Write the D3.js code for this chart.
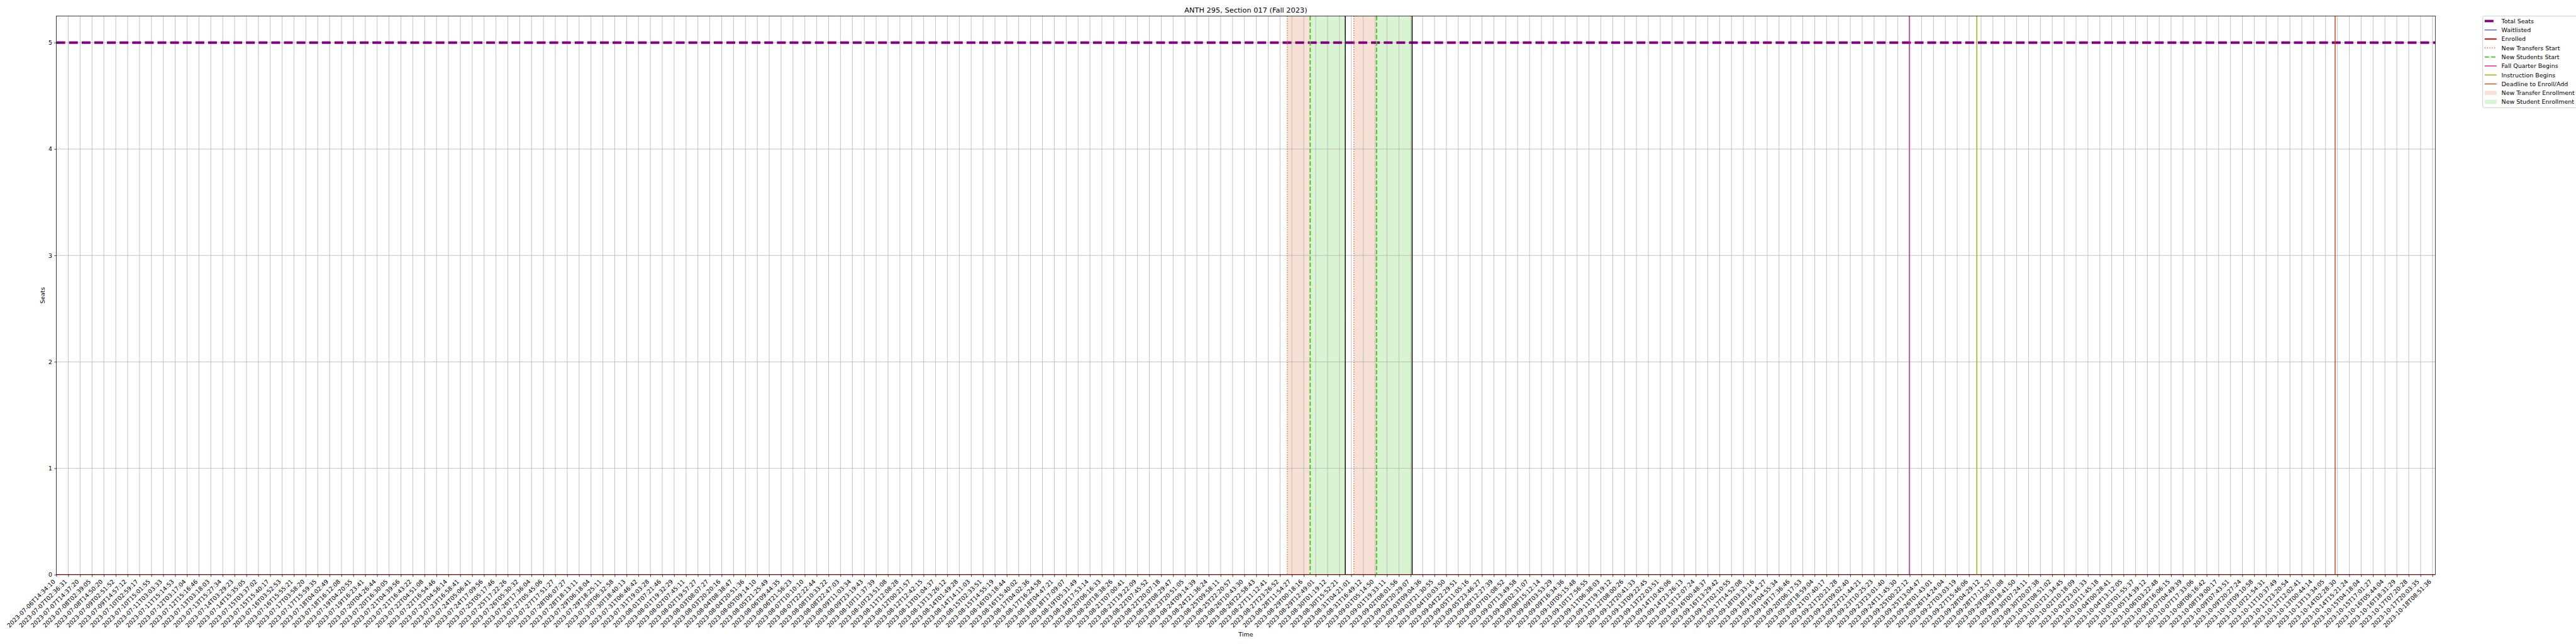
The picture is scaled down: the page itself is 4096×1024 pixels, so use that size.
<!DOCTYPE html>
<html><head><meta charset="utf-8">
<script src="https://cdn.jsdelivr.net/npm/d3@7"></script>
<style>html,body{margin:0;padding:0;background:#fff;} svg{display:block;}</style>
</head><body>
<svg id="chart" width="4096" height="1024"></svg>
<script>
// ---------------- DATA ----------------
const chartTitle = "ANTH 295, Section 017 (Fall 2023)";
const xAxisTitle = "Time";
const yAxisTitle = "Seats";
// one label per tick index (rows of 10); labels 73-101, 119-152, 166-188 are estimates (partly legible)
const tickLabels = [
/*000*/ "2023-07-06T14:34:10","2023-07-07T02:36:31","2023-07-07T14:37:20","2023-07-08T02:39:05","2023-07-08T14:50:20","2023-07-09T02:51:52","2023-07-09T14:57:12","2023-07-10T02:59:17","2023-07-10T15:01:55","2023-07-11T03:03:33",
/*010*/ "2023-07-11T15:14:53","2023-07-12T03:17:04","2023-07-12T15:16:46","2023-07-13T03:18:03","2023-07-13T15:27:34","2023-07-14T03:29:23","2023-07-14T15:35:05","2023-07-15T03:37:02","2023-07-15T15:40:17","2023-07-16T03:52:53",
/*020*/ "2023-07-16T15:55:21","2023-07-17T03:58:20","2023-07-17T15:59:35","2023-07-18T04:02:49","2023-07-18T16:12:08","2023-07-19T04:20:55","2023-07-19T16:23:41","2023-07-20T04:26:44","2023-07-20T16:30:05","2023-07-21T04:39:56",
/*030*/ "2023-07-21T16:43:22","2023-07-22T04:51:08","2023-07-22T16:54:46","2023-07-23T04:56:14","2023-07-23T16:58:41","2023-07-24T05:06:41","2023-07-24T17:09:56","2023-07-25T05:17:46","2023-07-25T17:22:26","2023-07-26T05:30:32",
/*040*/ "2023-07-26T17:36:04","2023-07-27T05:45:06","2023-07-27T17:51:27","2023-07-28T06:07:27","2023-07-28T18:13:11","2023-07-29T06:18:04","2023-07-29T18:25:11","2023-07-30T06:32:58","2023-07-30T18:40:13","2023-07-31T06:46:42",
/*050*/ "2023-07-31T19:03:28","2023-08-01T07:21:46","2023-08-01T19:32:29","2023-08-02T07:45:11","2023-08-02T19:57:27","2023-08-03T08:07:27","2023-08-03T20:20:16","2023-08-04T08:38:47","2023-08-04T20:51:36","2023-08-05T09:14:10",
/*060*/ "2023-08-05T21:25:49","2023-08-06T09:44:35","2023-08-06T21:56:23","2023-08-07T10:10:10","2023-08-07T22:22:44","2023-08-08T10:33:22","2023-08-08T22:47:03","2023-08-09T11:03:34","2023-08-09T23:19:43","2023-08-10T11:37:39",
/*070*/ "2023-08-10T23:51:08","2023-08-11T12:08:28","2023-08-12T00:21:57","2023-08-12T12:42:15","2023-08-13T01:04:37","2023-08-13T13:26:12","2023-08-14T01:49:28","2023-08-14T14:11:03","2023-08-15T02:33:51","2023-08-15T14:55:19",
/*080*/ "2023-08-16T03:18:44","2023-08-16T15:40:02","2023-08-17T04:02:36","2023-08-17T16:24:58","2023-08-18T04:47:21","2023-08-18T17:09:07","2023-08-19T05:31:49","2023-08-19T17:53:14","2023-08-20T06:16:33","2023-08-20T18:38:26",
/*090*/ "2023-08-21T07:00:41","2023-08-21T19:22:09","2023-08-22T07:45:52","2023-08-22T20:07:18","2023-08-23T08:29:47","2023-08-23T20:51:05","2023-08-24T09:14:39","2023-08-24T21:36:24","2023-08-25T09:58:11","2023-08-25T22:20:57",
/*100*/ "2023-08-26T10:43:30","2023-08-26T22:58:43","2023-08-27T11:12:41","2023-08-27T23:26:52","2023-08-28T11:54:27","2023-08-29T00:18:16","2023-08-29T12:49:01","2023-08-30T01:19:12","2023-08-30T15:52:21","2023-08-31T04:21:01",
/*110*/ "2023-08-31T16:49:12","2023-09-01T05:14:50","2023-09-01T19:33:11","2023-09-02T08:01:56","2023-09-02T20:29:07","2023-09-03T09:04:36","2023-09-03T21:30:55","2023-09-04T10:03:50","2023-09-04T22:29:51","2023-09-05T11:05:16",
/*120*/ "2023-09-05T23:46:27","2023-09-06T12:27:39","2023-09-07T01:08:52","2023-09-07T13:49:58","2023-09-08T02:31:07","2023-09-08T15:12:14","2023-09-09T03:53:29","2023-09-09T16:34:36","2023-09-10T05:15:48","2023-09-10T17:56:55",
/*130*/ "2023-09-11T06:38:03","2023-09-11T19:19:12","2023-09-12T08:00:26","2023-09-12T20:41:33","2023-09-13T09:22:45","2023-09-13T22:03:51","2023-09-14T10:45:06","2023-09-14T23:26:13","2023-09-15T12:07:24","2023-09-16T00:48:37",
/*140*/ "2023-09-16T13:29:42","2023-09-17T02:10:55","2023-09-17T14:52:08","2023-09-18T03:33:16","2023-09-18T16:14:27","2023-09-19T04:55:34","2023-09-19T17:36:46","2023-09-20T06:17:53","2023-09-20T18:59:04","2023-09-21T07:40:17",
/*150*/ "2023-09-21T20:21:28","2023-09-22T09:02:40","2023-09-22T21:44:21","2023-09-23T10:25:23","2023-09-23T23:01:40","2023-09-24T11:45:30","2023-09-25T00:22:12","2023-09-25T13:04:47","2023-09-26T01:43:01","2023-09-26T14:24:04",
/*160*/ "2023-09-27T03:03:19","2023-09-27T15:46:06","2023-09-28T04:29:12","2023-09-28T17:12:57","2023-09-29T06:01:08","2023-09-29T18:41:50","2023-09-30T07:24:11","2023-09-30T20:07:38","2023-10-01T08:51:02","2023-10-01T21:34:45",
/*170*/ "2023-10-02T10:18:09","2023-10-02T23:01:33","2023-10-03T11:45:18","2023-10-04T00:28:41","2023-10-04T13:12:05","2023-10-05T01:55:37","2023-10-05T14:39:12","2023-10-06T03:22:48","2023-10-06T16:06:15","2023-10-07T04:49:39",
/*180*/ "2023-10-07T17:33:06","2023-10-08T06:16:42","2023-10-08T19:00:17","2023-10-09T07:43:51","2023-10-09T20:27:24","2023-10-10T09:10:58","2023-10-10T21:54:31","2023-10-11T10:37:49","2023-10-11T23:20:54","2023-10-12T12:02:41",
/*190*/ "2023-10-13T00:44:14","2023-10-13T13:34:05","2023-10-14T02:28:30","2023-10-14T15:21:24","2023-10-15T04:18:04","2023-10-15T17:01:27","2023-10-16T05:44:04","2023-10-16T18:31:29","2023-10-17T07:20:28","2023-10-17T20:03:35",
/*200*/ "2023-10-18T08:51:36"
];
const seatsTicks = [0, 1, 2, 3, 4, 5];
const seatsAxisMax = 5.25;
const indexAxisMax = 200.24;
const seriesIndex = [0, 200.24];
const totalSeats = [5, 5];
const waitlisted = [0, 0];
const enrolled = [0, 0];
const newTransfersStart = ["2023-08-28T07:00:00", "2023-08-31T07:00:00"];
const newStudentsStart = ["2023-08-29T07:00:00", "2023-09-01T07:00:00"];
const enrollmentWindowEnd = ["2023-08-30T22:00:00", "2023-09-02T22:00:00"];
const fallQuarterBegins = ["2023-09-25T00:00:00"];
const instructionBegins = ["2023-09-28T00:00:00"];
const deadlineEnrollAdd = ["2023-10-14T00:00:00"];
const legendLabels = ["Total Seats","Waitlisted","Enrolled","New Transfers Start","New Students Start",
  "Fall Quarter Begins","Instruction Begins","Deadline to Enroll/Add","New Transfer Enrollment","New Student Enrollment"];

// ---------------- STYLE ----------------
const PT = 100 / 72;
const C = {
  seats: "#800080", wait: "#0000ff", enr: "#ff0000",
  transfer: "#ee6a2c", student: "#33cc11", fall: "#e0159c", instr: "#8fb300",
  deadline: "#c8441a", end: "#000000",
  transferSpan: "#f7e0d6", studentSpan: "#d9f4d2",
  grid: "#b0b0b0"
};
const FONT = "DejaVu Sans, Verdana, sans-serif";
const FS = 10 * PT;

// ---------------- DRAW ----------------
const S = 4096 / 6000;
const svg = d3.select("#chart");
svg.append("rect").attr("width", 4096).attr("height", 1024).attr("fill", "#fff");
const root = svg.append("g").attr("transform", `scale(${S})`);
const M = { left: 131.3, right: 5672.3, top: 37.3, bottom: 1338.7 };

const x = d3.scaleLinear().domain([0, indexAxisMax]).range([M.left, M.right]);
const y = d3.scaleLinear().domain([0, seatsAxisMax]).range([M.bottom, M.top]);

const parseT = d3.utcParse("%Y-%m-%dT%H:%M:%S");
const known = tickLabels.map((l, i) => [parseT(l), i]).filter(d => d[0]);
const timeToIndex = d3.scaleLinear().domain(known.map(d => d[0])).range(known.map(d => d[1]));
const xt = s => x(timeToIndex(parseT(s)));

root.append("clipPath").attr("id", "plotclip").append("rect")
  .attr("x", M.left).attr("y", M.top).attr("width", M.right - M.left).attr("height", M.bottom - M.top);
const plot = root.append("g").attr("clip-path", "url(#plotclip)");

// spans
function span(a, b, color) {
  plot.append("rect").attr("x", xt(a)).attr("y", M.top).attr("width", xt(b) - xt(a))
    .attr("height", M.bottom - M.top).attr("fill", color);
}
newTransfersStart.forEach((s, i) => span(s, newStudentsStart[i], C.transferSpan));
newStudentsStart.forEach((s, i) => span(s, enrollmentWindowEnd[i], C.studentSpan));

// grid
plot.append("g").selectAll("line").data(d3.range(tickLabels.length)).join("line")
  .attr("x1", d => x(d)).attr("x2", d => x(d)).attr("y1", M.top).attr("y2", M.bottom)
  .attr("stroke", C.grid).attr("stroke-width", 0.8 * PT);
plot.append("g").selectAll("line").data(seatsTicks).join("line")
  .attr("x1", M.left).attr("x2", M.right).attr("y1", d => y(d)).attr("y2", d => y(d))
  .attr("stroke", C.grid).attr("stroke-width", 0.8 * PT);

// series
const line = d3.line().x((d, i) => x(seriesIndex[i])).y(d => y(d));
plot.append("path").attr("d", line(totalSeats)).attr("fill", "none").attr("stroke", C.seats)
  .attr("stroke-width", 4 * PT).attr("stroke-dasharray", `${14.8 * PT},${6.4 * PT}`);
plot.append("path").attr("d", line(waitlisted)).attr("fill", "none").attr("stroke", C.wait)
  .attr("stroke-width", 1 * PT);
plot.append("path").attr("d", line(enrolled)).attr("fill", "none").attr("stroke", C.enr)
  .attr("stroke-width", 2 * PT);

// event lines
function vline(s, color, w, dash) {
  const l = plot.append("line").attr("x1", xt(s)).attr("x2", xt(s)).attr("y1", M.top).attr("y2", M.bottom)
    .attr("stroke", color).attr("stroke-width", w);
  if (dash) l.attr("stroke-dasharray", dash);
}
newTransfersStart.forEach(s => vline(s, C.transfer, 1.5 * PT, `${1.5 * PT},${2.475 * PT}`));
newStudentsStart.forEach(s => vline(s, C.student, 2 * PT, `${7.4 * PT},${3.2 * PT}`));
enrollmentWindowEnd.forEach(s => vline(s, C.end, 1.5 * PT));
fallQuarterBegins.forEach(s => vline(s, C.fall, 1.5 * PT));
instructionBegins.forEach(s => vline(s, C.instr, 1.5 * PT));
deadlineEnrollAdd.forEach(s => vline(s, C.deadline, 1.5 * PT));

// spines
root.append("rect").attr("x", M.left).attr("y", M.top).attr("width", M.right - M.left)
  .attr("height", M.bottom - M.top).attr("fill", "none").attr("stroke", "#000").attr("stroke-width", 0.8 * PT);

// axes
const tickLen = 3.5 * PT, tickPad = 3.5 * PT;
const gx = root.append("g").attr("transform", `translate(0,${M.bottom})`)
  .call(d3.axisBottom(x).tickValues(d3.range(tickLabels.length)).tickFormat(i => tickLabels[i])
    .tickSize(tickLen).tickSizeOuter(0));
gx.select(".domain").remove();
gx.selectAll(".tick line").attr("stroke", "#000").attr("stroke-width", 0.8 * PT);
gx.selectAll(".tick text")
  .attr("font-family", FONT).attr("font-size", FS).attr("fill", "#000")
  .attr("text-anchor", "end").attr("dy", null)
  .attr("x", -2.3).attr("y", tickLen + tickPad + 7.3)
  .attr("transform", `rotate(-45,-2.3,${tickLen + tickPad + 7.3})`);

const gy = root.append("g").attr("transform", `translate(${M.left},0)`)
  .call(d3.axisLeft(y).tickValues(seatsTicks).tickFormat(d3.format("d")).tickSize(tickLen).tickPadding(tickPad));
gy.select(".domain").remove();
gy.selectAll(".tick line").attr("stroke", "#000").attr("stroke-width", 0.8 * PT);
gy.selectAll(".tick text").attr("font-family", FONT).attr("font-size", FS).attr("fill", "#000");

// titles
root.append("text").attr("x", (M.left + M.right) / 2).attr("y", 29).attr("text-anchor", "middle")
  .attr("font-family", FONT).attr("font-size", 12 * PT).attr("fill", "#000").text(chartTitle);
root.append("text").attr("x", (M.left + M.right) / 2).attr("y", 1482).attr("text-anchor", "middle")
  .attr("font-family", FONT).attr("font-size", FS).attr("fill", "#000").text(xAxisTitle);
root.append("text").attr("transform", `translate(104,${(M.top + M.bottom) / 2}) rotate(-90)`)
  .attr("text-anchor", "middle").attr("font-family", FONT).attr("font-size", FS).attr("fill", "#000").text(yAxisTitle);

// legend
const L = { x: 5782.7, y: 37.3, row0: 49, pitch: 20.93, hx0: 5787.3, hx1: 5815.1, tx: 5826.5 };
const lg = root.append("g");
lg.append("rect").attr("x", L.x).attr("y", L.y).attr("width", 260).attr("height", 213.4).attr("rx", 3)
  .attr("fill", "#fff").attr("fill-opacity", 0.8).attr("stroke", "#cccccc").attr("stroke-width", 1 * PT);
const handles = [
  { t: "line", c: C.seats, w: 4 * PT, dash: `${14.8 * PT},${6.4 * PT}` },
  { t: "line", c: C.wait, w: 1 * PT },
  { t: "line", c: C.enr, w: 2 * PT },
  { t: "line", c: C.transfer, w: 1.5 * PT, dash: `${1.5 * PT},${2.475 * PT}` },
  { t: "line", c: C.student, w: 2 * PT, dash: `${7.4 * PT},${3.2 * PT}` },
  { t: "line", c: C.fall, w: 1.5 * PT },
  { t: "line", c: C.instr, w: 1.5 * PT },
  { t: "line", c: C.deadline, w: 1.5 * PT },
  { t: "rect", c: C.transferSpan },
  { t: "rect", c: C.studentSpan }
];
legendLabels.forEach((lab, i) => {
  const cy = L.row0 + i * L.pitch;
  const h = handles[i];
  if (h.t === "line") {
    const l = lg.append("line").attr("x1", L.hx0).attr("x2", L.hx1).attr("y1", cy).attr("y2", cy)
      .attr("stroke", h.c).attr("stroke-width", h.w);
    if (h.dash) l.attr("stroke-dasharray", h.dash);
  } else {
    lg.append("rect").attr("x", L.hx0).attr("y", cy - 4.9).attr("width", L.hx1 - L.hx0).attr("height", 9.7)
      .attr("fill", h.c);
  }
  lg.append("text").attr("x", L.tx).attr("y", cy).attr("dy", "0.36em").attr("font-family", FONT)
    .attr("font-size", FS).attr("fill", "#000").text(lab);
});
</script>
</body></html>
